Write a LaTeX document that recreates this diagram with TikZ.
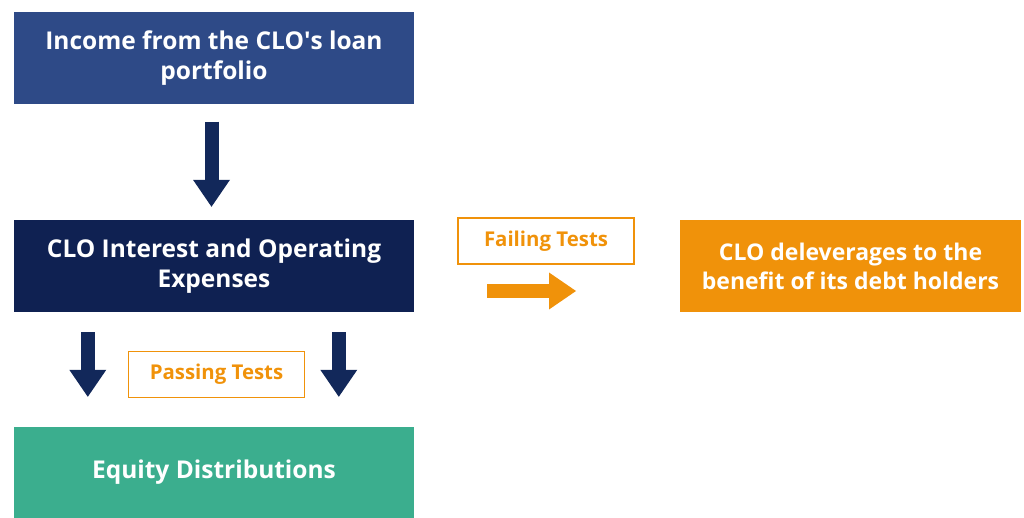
\documentclass[tikz,border=0pt]{standalone}
\usepackage{fontspec}
\setmainfont{Open Sans}
\usetikzlibrary{arrows.meta,positioning}

\definecolor{incomeblue}{HTML}{2E4A87}
\definecolor{clonavy}{HTML}{0F2152}
\definecolor{arrownavy}{HTML}{12285A}
\definecolor{cloorange}{HTML}{F0920A}
\definecolor{equitygreen}{HTML}{3BAE8E}

\begin{document}
\begin{tikzpicture}[x=1pt, y=-1pt,
  box/.style={minimum width=400pt, minimum height=92pt, inner sep=0pt,
              text=white, align=center, font=\fontsize{24.5}{30}\selectfont\bfseries},
  tag/.style={draw=cloorange, line width=1.6pt, minimum width=176pt, minimum height=46pt,
              inner sep=0pt, text=cloorange, font=\fontsize{20.4}{24}\selectfont\bfseries},
  blockarrow/.style={line width=14pt, -{Triangle[length=27pt, width=37pt, line width=0pt]}}
]
  \useasboundingbox (0,0) rectangle (1024,518);

  % Boxes
  \node[box, fill=incomeblue] (income) at (214,58.5) {Income from the CLO\textquotesingle s loan\\portfolio};
  \node[box, fill=clonavy] (interest) at (214,266) {CLO Interest and Operating\\Expenses};
  \node[box, fill=equitygreen, minimum height=91pt] (equity) at (214,472.5) {Equity Distributions};
  \node[box, fill=cloorange, minimum width=341pt, font=\fontsize{23}{29}\selectfont\bfseries] (delever) at (850.5,266) {CLO deleverages to the\\benefit of its debt holders};

  % Test labels
  \node[tag] (failing) at (546,241) {Failing Tests};
  \node[tag] (passing) at (216.5,374.5) {Passing Tests};

  % Arrows
  \coordinate (failstart) at (487,291);
  \coordinate (failend) at (576,291);
  \draw[blockarrow, draw=arrownavy, shorten <=17pt, shorten >=13pt] ([xshift=-2.5pt]income.south) -- ([xshift=-2.5pt]interest.north);
  \draw[blockarrow, draw=arrownavy, shorten <=20pt, shorten >=30pt] ([xshift=74pt]interest.south west) -- ([xshift=74pt]equity.north west);
  \draw[blockarrow, draw=arrownavy, shorten <=20pt, shorten >=30pt] ([xshift=325pt]interest.south west) -- ([xshift=325pt]equity.north west);
  \draw[blockarrow, draw=cloorange] (failstart) -- (failend);
\end{tikzpicture}
\end{document}
